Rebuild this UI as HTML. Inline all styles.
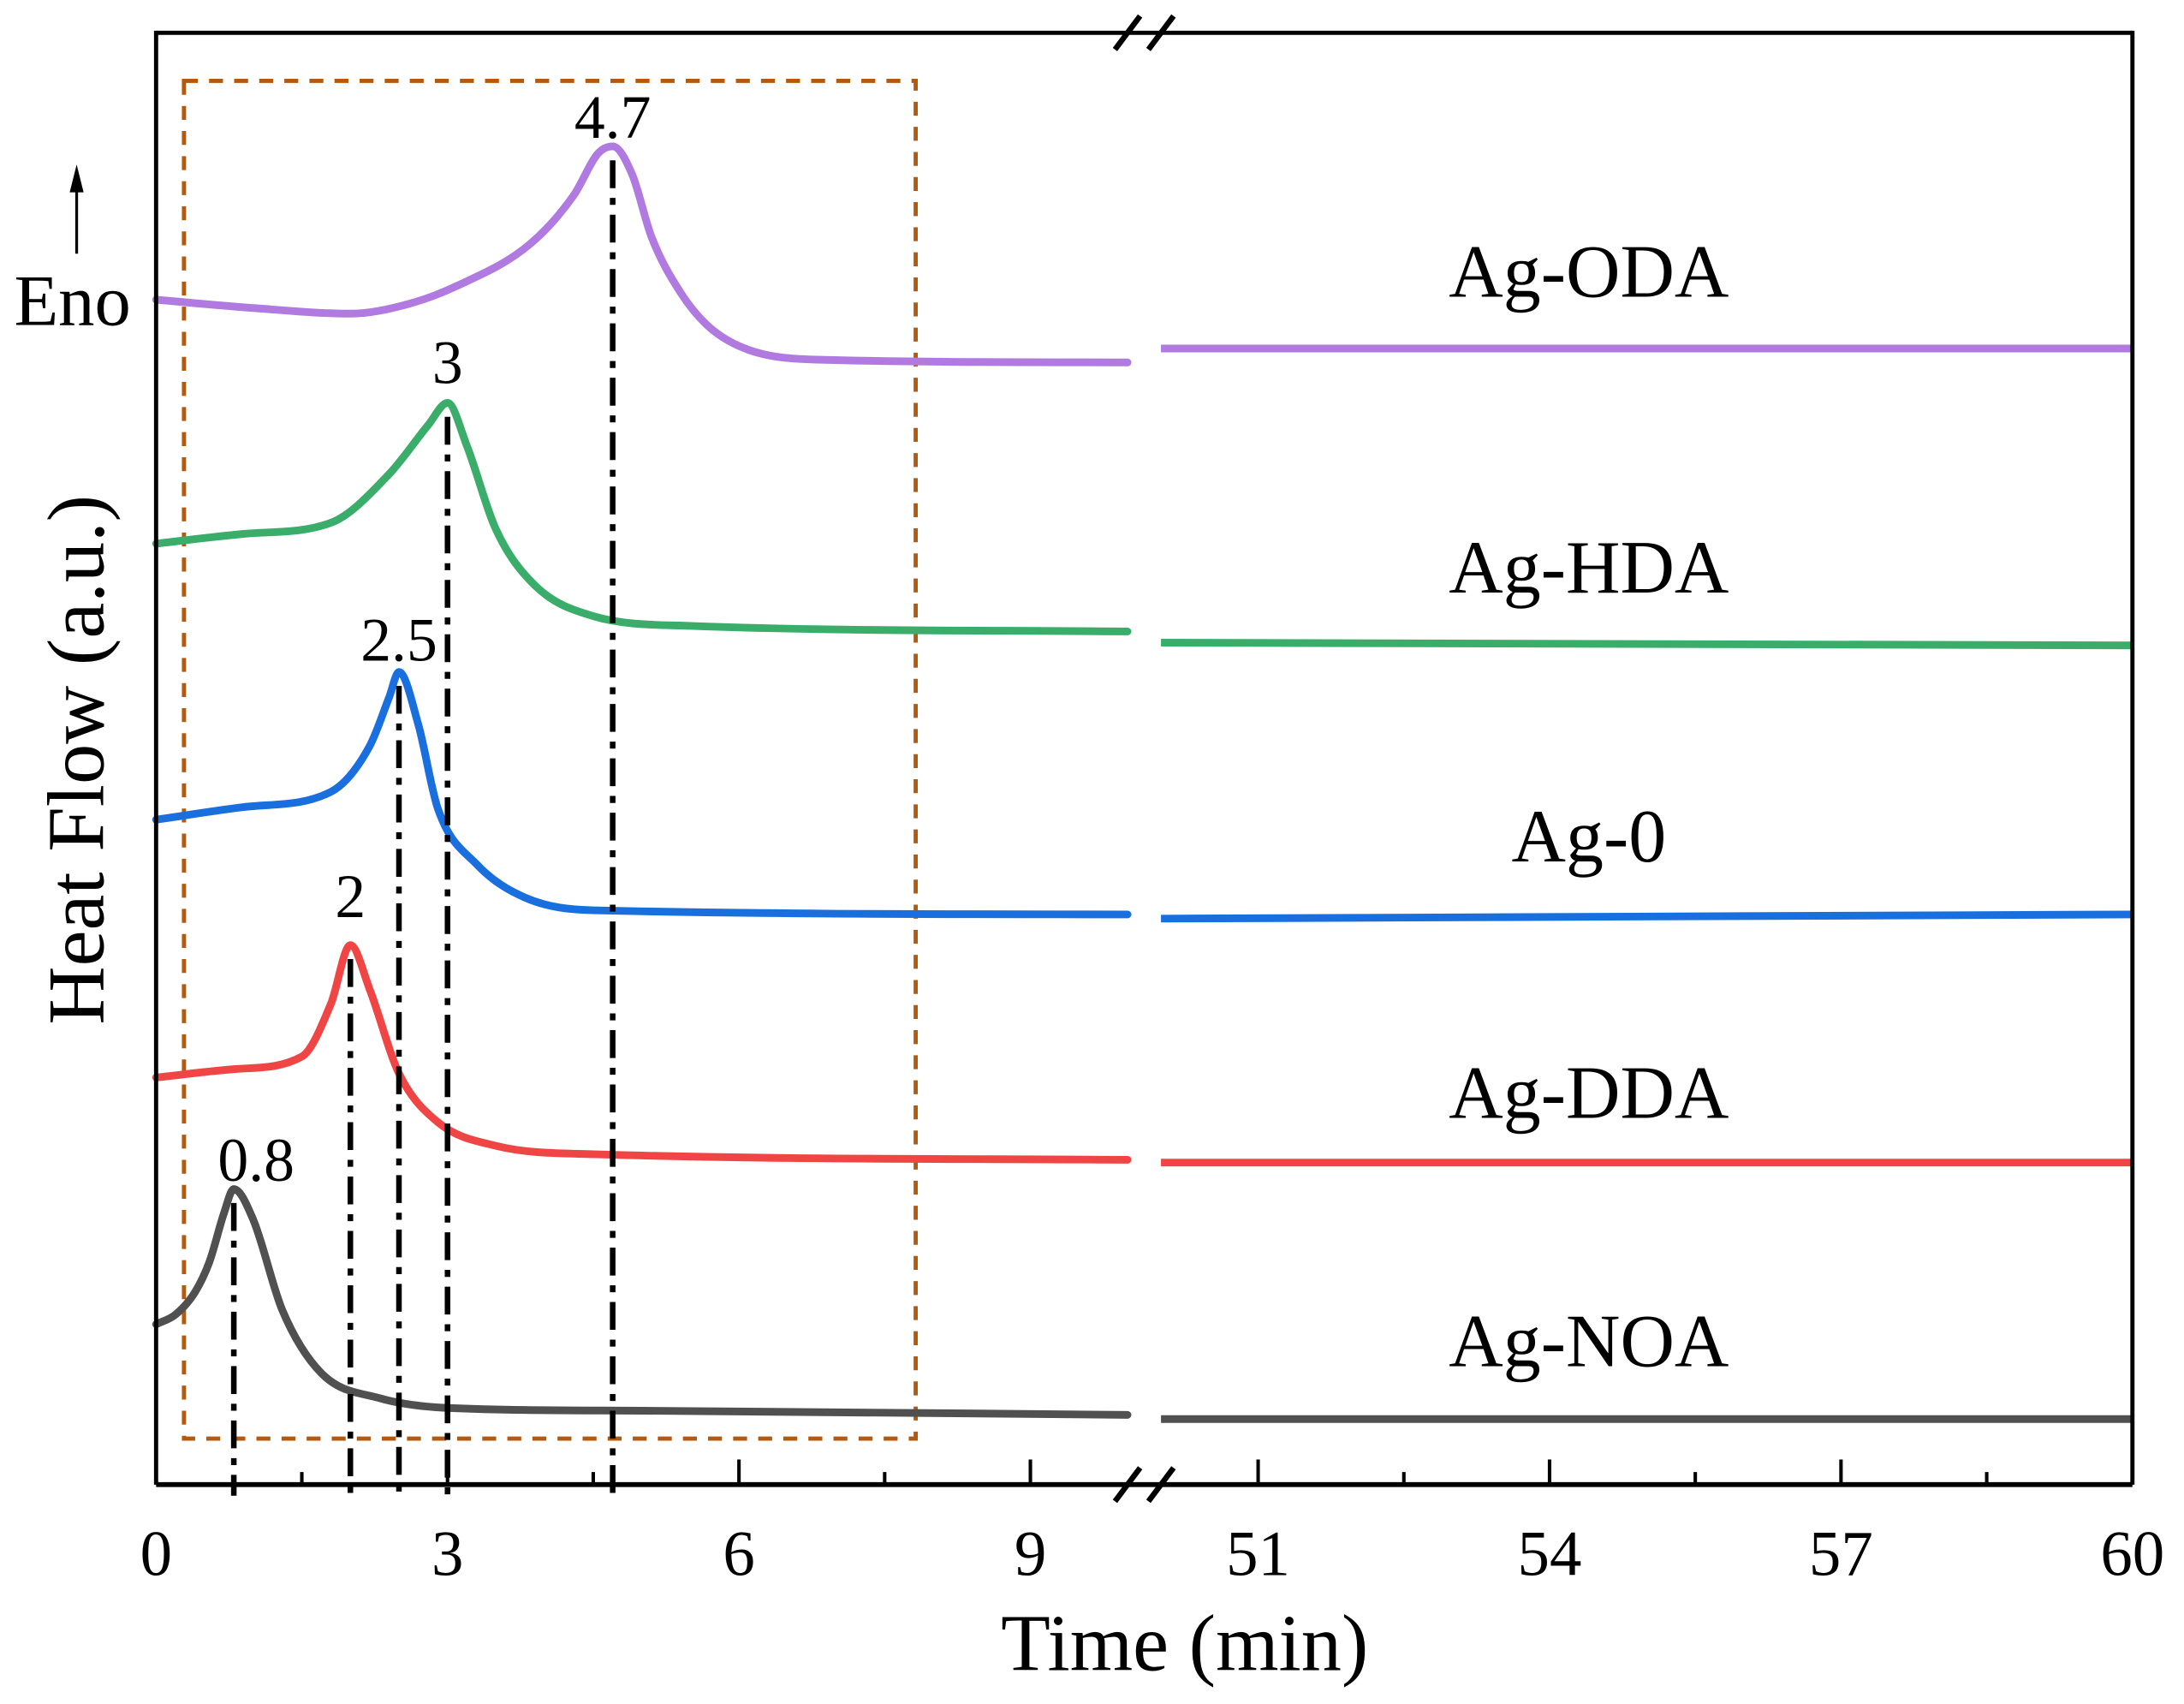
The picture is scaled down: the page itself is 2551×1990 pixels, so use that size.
<!DOCTYPE html>
<html><head><meta charset="utf-8"><style>
html,body{margin:0;padding:0;background:#fff;}
svg{display:block;}
text{font-family:"Liberation Serif",serif;fill:#000;}
</style></head><body>
<svg id="chart" width="2551" height="1990" viewBox="0 0 1567 1222.4" preserveAspectRatio="none" xmlns="http://www.w3.org/2000/svg">
<g id="g"></g>
</svg>
<script>
// ---- data ----
const seriesNames = ["Ag-NOA","Ag-DDA","Ag-0","Ag-HDA","Ag-ODA"];
const seriesColors = ["#505050","#f04545","#1a6fdf","#3aad6a","#b07ae0"];
const peakTimes = [0.8, 2, 2.5, 3, 4.7];
const peakLabels = ["0.8","2","2.5","3","4.7"];
const leftTicks = [0,3,6,9];
const rightTicks = [51,54,57,60];
// curve samples: time (min) and heat flow (a.u.)
const tNOA = [0,0.2,0.4,0.55,0.7,0.8,1.0,1.3,1.7,2.3,3,5,10];
const vNOA = [115,122,138,160,195,212,190,125,80,62,55,53,50];
const tDDA = [0,0.8,1.5,1.8,2.0,2.2,2.5,2.9,3.5,4.5,10];
const vDDA = [292,298,307,345,387,355,295,260,243,237,233];
const tAg0 = [0,0.9,1.8,2.2,2.4,2.5,2.7,2.9,3.3,3.8,4.5,10];
const vAg0 = [477,486,497,530,565,583,545,485,445,421,412,409];
const tHDA = [0,0.9,1.8,2.4,2.8,3.0,3.2,3.5,3.9,4.5,5.5,10];
const vHDA = [675,682,690,725,760,776,745,685,645,623,616,612];
const tODA = [0,1,2,2.6,3.1,3.85,4.3,4.55,4.7,4.9,5.1,5.4,5.7,6.1,6.8,10];
const vODA = [850,844,840,847,860,890,925,955,960,940,895,855,830,814,807,805];
const rightStart = [47,231,406,604,815];
const rightEnd = [47,231,409,602,815];
const seriesT = [tNOA,tDDA,tAg0,tHDA,tODA];
const seriesV = [vNOA,vDDA,vAg0,vHDA,vODA];

// ---- axes ----
const X0=112, X1=1530, YB=1065, YT=22;
function xs(t){ return t<=10 ? 112 + t*69.7 : 833 + (t-50)*69.7; }
function ys(v){ return YB - v; }

const g=document.getElementById('g');
const NS="http://www.w3.org/2000/svg";
function mk(tag,attrs,name){const e=document.createElementNS(NS,tag);for(const k in attrs)e.setAttribute(k,attrs[k]);


g.appendChild(e);return e;}
function txt(s,x,y,size,name,anchor,extra){const e=mk('text',Object.assign({x:x,y:y,'font-size':size,'text-anchor':anchor||'middle'},extra||{}),name);e.textContent=s;return e;}

// monotone cubic (Fritsch-Carlson)
function monotone(pts){
  const n=pts.length, d=[], m=[];
  for(let i=0;i<n-1;i++) d.push((pts[i+1][1]-pts[i][1])/(pts[i+1][0]-pts[i][0]));
  m[0]=d[0]; m[n-1]=d[n-2];
  for(let i=1;i<n-1;i++) m[i]=(d[i-1]*d[i]<=0)?0:(d[i-1]+d[i])/2;
  for(let i=0;i<n-1;i++){ if(d[i]===0){m[i]=0;m[i+1]=0;continue;}
    const a=m[i]/d[i], b=m[i+1]/d[i], s=a*a+b*b; if(s>9){const t=3/Math.sqrt(s);m[i]=t*a*d[i];m[i+1]=t*b*d[i];} }
  let p=`M${pts[0][0]},${pts[0][1]}`;
  for(let i=0;i<n-1;i++){const h=(pts[i+1][0]-pts[i][0])/3;
    p+=` C${pts[i][0]+h},${pts[i][1]+m[i]*h} ${pts[i+1][0]-h},${pts[i+1][1]-m[i+1]*h} ${pts[i+1][0]},${pts[i+1][1]}`;}
  return p;
}

// highlight box
mk('rect',{x:132,y:58,width:525,height:974,fill:'none',stroke:'#b35a10','stroke-width':3,'stroke-dasharray':'10 8'},'highlight-box');

// series
for(let s=0;s<5;s++){
  const pts=seriesT[s].map((t,i)=>[xs(t),ys(seriesV[s][i])]);
  mk('path',{d:monotone(pts),fill:'none',stroke:seriesColors[s],'stroke-width':5.5,'stroke-linecap':'round','stroke-linejoin':'round'},'curve-'+seriesNames[s].toLowerCase());
  mk('line',{x1:xs(50),y1:ys(rightStart[s]),x2:xs(60),y2:ys(rightEnd[s]),stroke:seriesColors[s],'stroke-width':5.5},'curve-right-'+seriesNames[s].toLowerCase());
}
// peak lines & labels
const labelOffsets=[6,20,8,14,6];
for(let s=0;s<5;s++){
  const t=peakTimes[s];
  const pv=Math.max(...seriesV[s]);
  mk('line',{x1:xs(t),y1:ys(pv)+10,x2:xs(t),y2:YB+8,stroke:'#000','stroke-width':4,'stroke-dasharray':'20 7 5 7'},'peak-line-'+peakLabels[s]);
  txt(peakLabels[s],xs(t)+(s===0?16:0),ys(pv)-labelOffsets[s],44,'peak-label-'+peakLabels[s]);
}
// series labels
const labelY=[980,802,618,425,213];
for(let s=0;s<5;s++) txt(seriesNames[s],1140,labelY[s],54,'series-label-'+seriesNames[s].toLowerCase());

// frame
mk('line',{x1:X0,y1:YT,x2:X0,y2:YB,stroke:'#000','stroke-width':3},'y-axis-line');
mk('line',{x1:X1,y1:YT,x2:X1,y2:YB,stroke:'#000','stroke-width':3},'right-frame');
mk('line',{x1:X0,y1:YT+1.5,x2:X1,y2:YT+1.5,stroke:'#000','stroke-width':3},'top-frame');
mk('line',{x1:X0,y1:YB,x2:X1,y2:YB,stroke:'#000','stroke-width':3.5},'x-axis-line');
// break marks
[YT+1.5,YB].forEach(y=>{
  mk('line',{x1:800,y1:y+12,x2:818,y2:y-12,stroke:'#000','stroke-width':4},'axis-break-1');
  mk('line',{x1:824,y1:y+12,x2:842,y2:y-12,stroke:'#000','stroke-width':4},'axis-break-2');
});
// ticks
leftTicks.concat(rightTicks).forEach(t=>{
  mk('line',{x1:xs(t),y1:YB,x2:xs(t),y2:YB-18,stroke:'#000','stroke-width':2.5},'x-tick');
  txt(String(t),xs(t),1130,46,'x-tick-label');
});
[1.5,4.5,7.5,52.5,55.5,58.5].forEach(t=>mk('line',{x1:xs(t),y1:YB,x2:xs(t),y2:YB-9,stroke:'#000','stroke-width':2.5},'x-minor-tick'));

// titles
txt('Time (min)',850,1198,58,'x-axis-title');
txt('Heat Flow (a.u.)',0,0,58,'y-axis-title','middle',{transform:'translate(74,545) rotate(-90)'});
txt('Eno',52,233,52,'endo-label');
mk('line',{x1:55,y1:182,x2:55,y2:135,stroke:'#000','stroke-width':2},'endo-arrow-shaft');
mk('path',{d:'M50,138 L55,118 L60,138 Z',fill:'#000'},'endo-arrow-head');
</script>
</body></html>
